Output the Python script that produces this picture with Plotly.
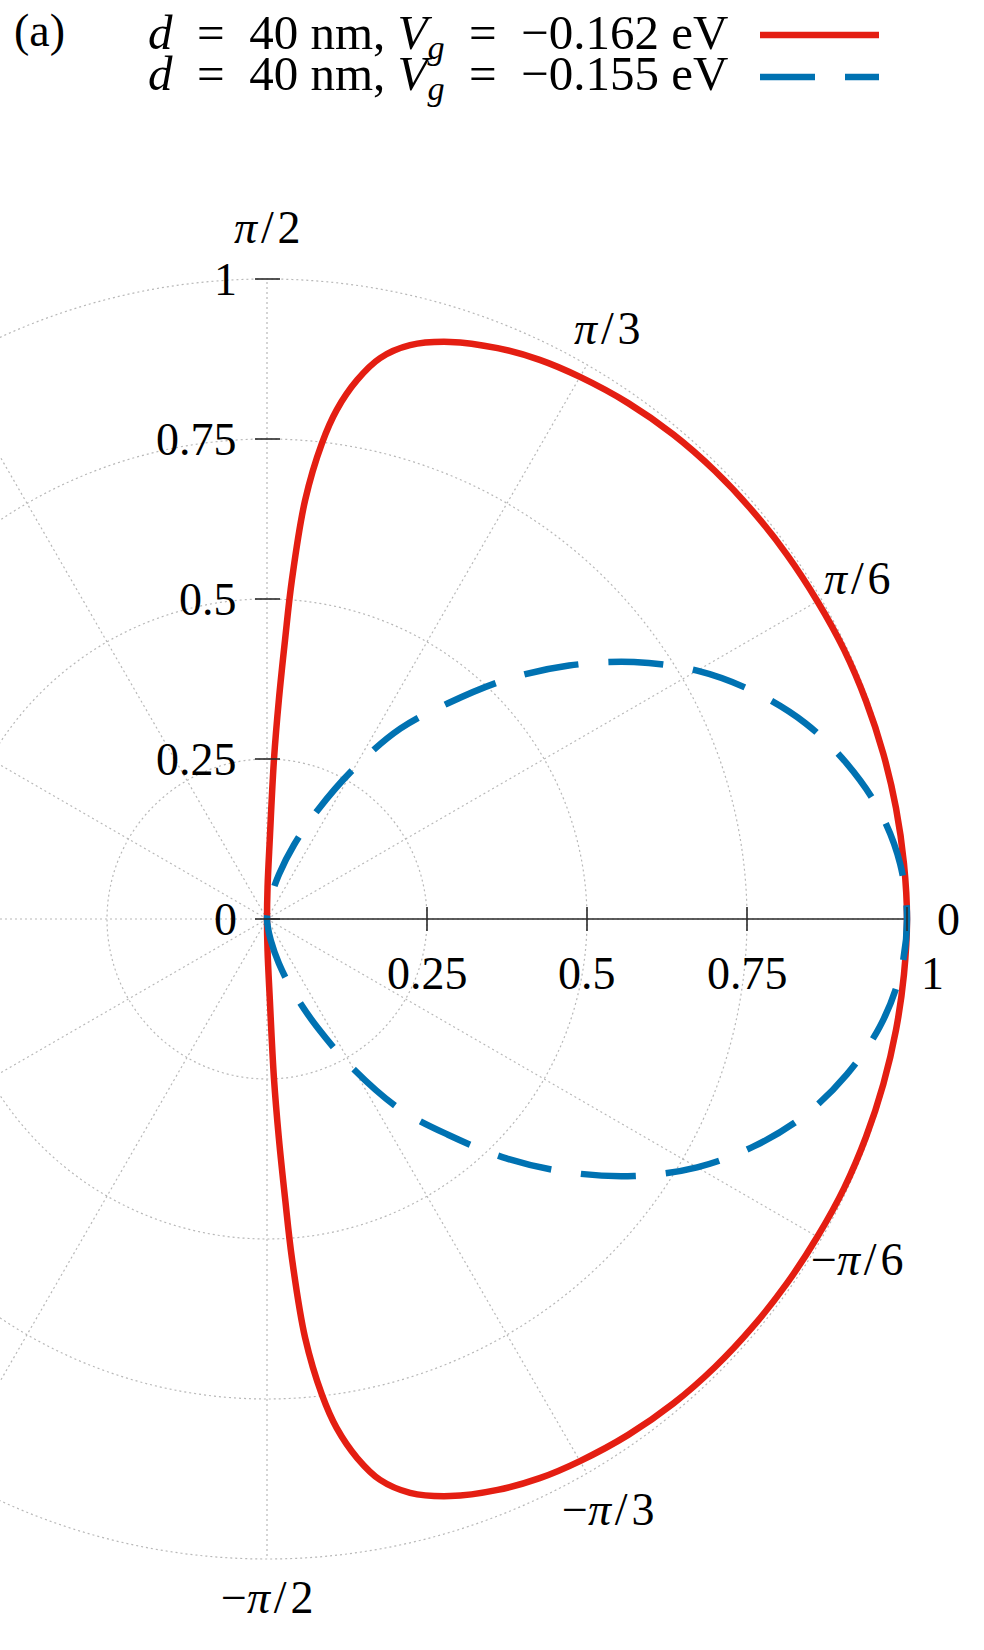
import numpy as np
import plotly.graph_objects as go

# ---------------- data (angle in degrees, radius) ----------------
theta_red = [-90, -89, -88, -87.5, -86.9, -86.3, -85.8, -84.8, -83.4, -82.2, -80.5, -78.6, -76, -72.4, -68, -64,
             -60, -55, -50, -45, -40, -35, -30, -25, -20, -15, -10, -5, 0,
             5, 10, 15, 20, 25, 30, 35, 40, 45, 50, 55, 60,
             64, 68, 72.4, 76, 78.6, 80.5, 82.2, 83.4, 84.8, 85.8, 86.3, 86.9, 87.5, 88, 89, 90]
r_red = [0.0, 0.05, 0.125, 0.249, 0.343, 0.437, 0.531, 0.657, 0.749, 0.803, 0.854, 0.894, 0.924, 0.946, 0.962, 0.972,
         0.978, 0.984, 0.988, 0.990, 0.991, 0.992, 0.993, 0.995, 0.996, 0.997, 0.998, 0.999, 1.0,
         0.999, 0.998, 0.997, 0.996, 0.995, 0.993, 0.992, 0.991, 0.990, 0.988, 0.984, 0.978,
         0.972, 0.962, 0.946, 0.924, 0.894, 0.854, 0.803, 0.749, 0.657, 0.531, 0.437, 0.343, 0.249, 0.125, 0.05, 0.0]

theta_blue = [-90, -85, -80, -75, -70, -65, -60, -55, -50, -45, -40, -35, -30, -25, -20, -15, -10, -5,
              0, 5, 10, 15, 20, 25, 30, 35, 40, 45, 50, 55, 60, 65, 70, 75, 80, 85, 90]
r_blue = [0.0, 0.010, 0.034, 0.072, 0.123, 0.188, 0.271, 0.363, 0.440, 0.529, 0.616, 0.700, 0.776, 0.840, 0.895, 0.938, 0.972, 0.993,
          1.0, 0.993, 0.972, 0.938, 0.895, 0.840, 0.776, 0.700, 0.616, 0.529, 0.440, 0.363, 0.271, 0.188, 0.123, 0.072, 0.034, 0.010, 0.0]

EQ = "\u2002=\u2002"
series_names = ["<i>d</i>" + EQ + "40 nm, <i>V</i><sub><i>g</i></sub>" + EQ + "\u22120.162 eV",
                "<i>d</i>" + EQ + "40 nm, <i>V</i><sub><i>g</i></sub>" + EQ + "\u22120.155 eV"]
series_colors = ["#e41e12", "#0072b2"]
series_dash = ["solid", "55px,30px"]

r_ticks = [0.25, 0.5, 0.75, 1.0]
r_tick_labels = ["0.25", "0.5", "0.75", "1"]
y_ticks = [0, 0.25, 0.5, 0.75, 1.0]
y_tick_labels = ["0", "0.25", "0.5", "0.75", "1"]
ang_grid = [0, 30, 60, 90, 120, 150, 180, 210, 240, 270, 300, 330]
ang_label_deg = [90, 60, 30, 0, -30, -60, -90]
SL = "\u200a/\u200a"
ang_labels = ["<i>π</i>" + SL + "2", "<i>π</i>" + SL + "3", "<i>π</i>" + SL + "6", "0",
              "\u2212<i>π</i>" + SL + "6", "\u2212<i>π</i>" + SL + "3", "\u2212<i>π</i>" + SL + "2"]

# ---------------- layout constants ----------------
W, H = 984, 1650
OX, OY, R = 267.0, 919.0, 640.0   # origin pixel, unit radius in px
FONT = "Liberation Serif"
FS = 46
GRID = dict(color="#b8b8b8", width=1.2, dash="2px,3px")


def to_xy(th_deg, r):
    th = np.radians(np.asarray(th_deg, dtype=float))
    r = np.asarray(r, dtype=float)
    return r * np.cos(th), r * np.sin(th)


fig = go.Figure()

shapes = []
# grid circles
for rr in r_ticks:
    shapes.append(dict(type="circle", xref="x", yref="y", x0=-rr, y0=-rr, x1=rr, y1=rr,
                       line=GRID, layer="below"))
# radial grid lines
for a in ang_grid:
    gx, gy = to_xy([a], [1.0])
    shapes.append(dict(type="line", xref="x", yref="y", x0=0, y0=0, x1=float(gx[0]), y1=float(gy[0]),
                       line=GRID, layer="below"))
# radial axis line
shapes.append(dict(type="line", xref="x", yref="y", x0=0, y0=0, x1=1.0, y1=0,
                   line=dict(color="#2a2a2a", width=1.6), layer="below"))
# ticks on the radial axis
for t in r_ticks:
    shapes.append(dict(type="line", xref="x", yref="y", ysizemode="pixel", yanchor=0,
                       x0=t, x1=t, y0=-12, y1=12, line=dict(color="#2a2a2a", width=1.6)))
# ticks on the vertical axis
for t in y_ticks:
    shapes.append(dict(type="line", xref="x", yref="y", xsizemode="pixel", xanchor=0,
                       y0=t, y1=t, x0=-12, x1=13, line=dict(color="#2a2a2a", width=1.6)))

# curves
for th, rv, nm, col, dsh in [(theta_red, r_red, series_names[0], series_colors[0], series_dash[0]),
                             (theta_blue, r_blue, series_names[1], series_colors[1], series_dash[1])]:
    x, y = to_xy(th, rv)
    fig.add_trace(go.Scatter(x=x, y=y, mode="lines", name=nm, showlegend=False,
                             line=dict(color=col, width=6.5, dash=dsh, shape="spline", smoothing=1.0),
                             hoverinfo="skip"))

annotations = []
# radial tick labels
for t, lab in zip(r_ticks, r_tick_labels):
    xx = t + (0.04 if t == 1.0 else 0.0)
    annotations.append(dict(x=xx, y=-0.085, xref="x", yref="y", text=lab, showarrow=False,
                            xanchor="center", yanchor="middle"))
# vertical tick labels
for t, lab in zip(y_ticks, y_tick_labels):
    annotations.append(dict(x=-0.044, y=t, xref="x", yref="y", text=lab, showarrow=False,
                            xanchor="right", yanchor="middle"))
# angular labels
for a, lab in zip(ang_label_deg, ang_labels):
    rl = 1.08 if a == 90 else (1.06 if a == -90 else 1.065)
    lx, ly = to_xy([a], [rl])
    annotations.append(dict(x=float(lx[0]), y=float(ly[0]), xref="x", yref="y", text=lab, showarrow=False,
                            xanchor="center", yanchor="middle"))

# panel label
annotations.append(dict(x=12 / W, y=1 - 30 / H, xref="paper", yref="paper", text="(a)", showarrow=False,
                        xanchor="left", yanchor="middle", font=dict(size=46)))
# legend (text left of sample, gnuplot style)
leg_y = [35, 77]
for i in range(2):
    yp = 1 - leg_y[i] / H
    annotations.append(dict(x=731 / W, y=yp, xref="paper", yref="paper", text=series_names[i],
                            showarrow=False, xanchor="right", yanchor="middle", font=dict(size=49)))
    shapes.append(dict(type="line", xref="paper", yref="paper", x0=760 / W, x1=879 / W, y0=yp, y1=yp,
                       line=dict(color=series_colors[i], width=6.5, dash=series_dash[i])))

fig.update_layout(
    width=W, height=H,
    margin=dict(l=0, r=0, t=0, b=0),
    paper_bgcolor="white", plot_bgcolor="white",
    font=dict(family=FONT, size=FS, color="black"),
    xaxis=dict(range=[-OX / R, (W - OX) / R], visible=False, fixedrange=True),
    yaxis=dict(range=[-(H - OY) / R, OY / R], visible=False, fixedrange=True),
    shapes=shapes, annotations=annotations, showlegend=False,
)

fig.write_html("out.html")
